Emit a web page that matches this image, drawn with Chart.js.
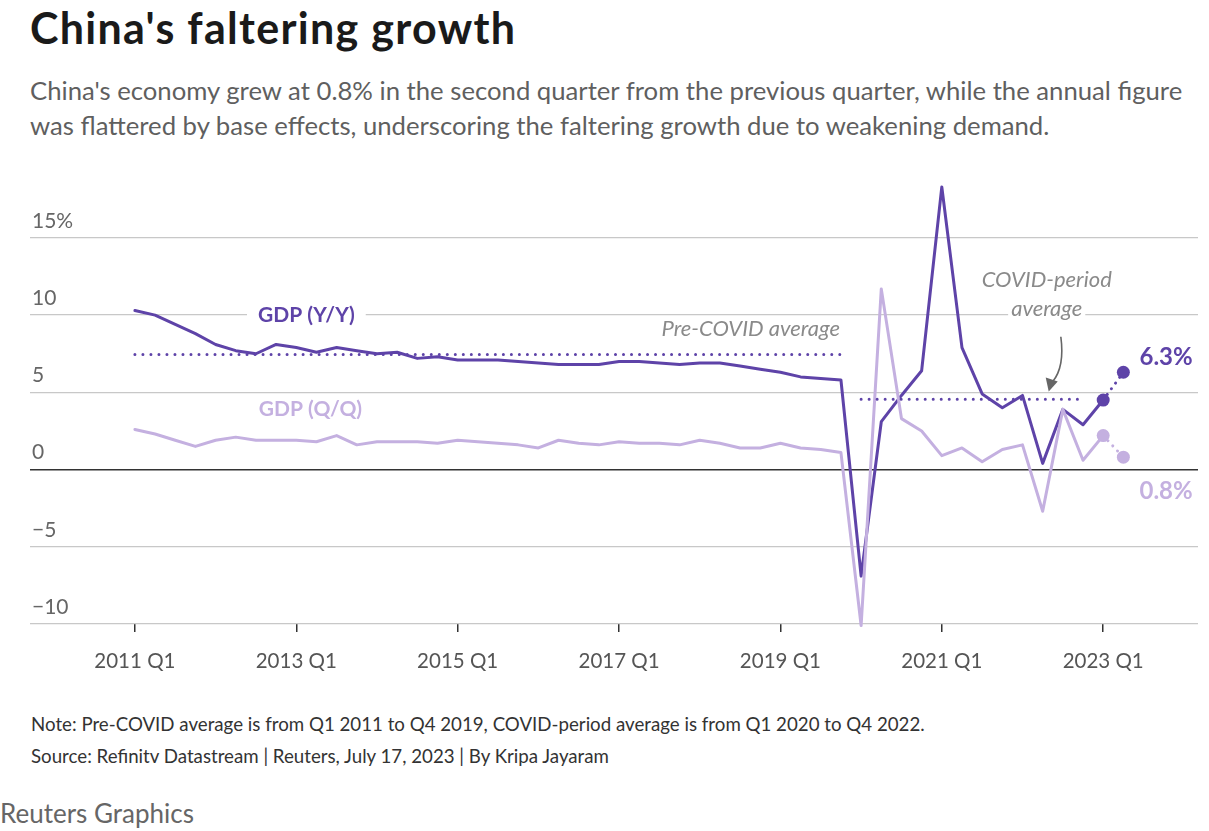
<!DOCTYPE html>
<html>
<head>
<meta charset="utf-8">
<script src="https://cdn.jsdelivr.net/npm/chart.js@4.4.0/dist/chart.umd.min.js"></script>
<style>
  html, body { margin: 0; padding: 0; background: #fff; }
  body { width: 1209px; height: 831px; position: relative; overflow: hidden; font-family: Lato, "Noto Sans", sans-serif; }
  .title { position: absolute; left: 30px; top: 2px; font-size: 43px; line-height: 52px; font-weight: 700; letter-spacing: 1.3px; color: #1a1a1a; }
  .sub { position: absolute; left: 30px; top: 73px; font-size: 25.7px; line-height: 35px; color: #5f5f5f; }
  .note { position: absolute; left: 31px; top: 708px; font-size: 18.7px; line-height: 32px; color: #333; }
  .brand { position: absolute; left: 0; top: 798px; font-size: 26px; line-height: 30px; color: #666; }
  #wrap { position: absolute; left: 0; top: 160px; width: 1209px; height: 540px; }
</style>
</head>
<body>
<div class="title">China's faltering growth</div>
<div class="sub">China's economy grew at 0.8% in the second quarter from the previous quarter, while the annual figure<br>was flattered by base effects, underscoring the faltering growth due to weakening demand.</div>
<div id="wrap"><canvas id="chart"></canvas></div>
<div class="note">Note: Pre-COVID average is from Q1 2011 to Q4 2019, COVID-period average is from Q1 2020 to Q4 2022.<br>Source: Refinitv Datastream | Reuters, July 17, 2023 | By Kripa Jayaram</div>
<div class="brand">Reuters Graphics</div>

<script>
// quarters, 2011 Q1 .. 2023 Q2
const quarters = [
  '2011 Q1','2011 Q2','2011 Q3','2011 Q4','2012 Q1','2012 Q2','2012 Q3','2012 Q4',
  '2013 Q1','2013 Q2','2013 Q3','2013 Q4','2014 Q1','2014 Q2','2014 Q3','2014 Q4',
  '2015 Q1','2015 Q2','2015 Q3','2015 Q4','2016 Q1','2016 Q2','2016 Q3','2016 Q4',
  '2017 Q1','2017 Q2','2017 Q3','2017 Q4','2018 Q1','2018 Q2','2018 Q3','2018 Q4',
  '2019 Q1','2019 Q2','2019 Q3','2019 Q4','2020 Q1','2020 Q2','2020 Q3','2020 Q4',
  '2021 Q1','2021 Q2','2021 Q3','2021 Q4','2022 Q1','2022 Q2','2022 Q3','2022 Q4',
  '2023 Q1','2023 Q2'
];

// GDP growth, year on year (%)
const gdpYY = [
  10.3, 10.0, 9.4, 8.8,   8.1, 7.7, 7.5, 8.1,   7.9, 7.6, 7.9, 7.7,   7.5, 7.6, 7.2, 7.3,
  7.1, 7.1, 7.1, 7.0,     6.9, 6.8, 6.8, 6.8,   7.0, 7.0, 6.9, 6.8,   6.9, 6.9, 6.7, 6.5,
  6.3, 6.0, 5.9, 5.8,    -6.9, 3.1, 4.8, 6.4,  18.3, 7.9, 4.9, 4.0,   4.8, 0.4, 3.9, 2.9,
  4.5, 6.3
];

// GDP growth, quarter on quarter (%)
const gdpQQ = [
  2.6, 2.3, 1.9, 1.5,   1.9, 2.1, 1.9, 1.9,   1.9, 1.8, 2.2, 1.6,   1.8, 1.8, 1.8, 1.7,
  1.9, 1.8, 1.7, 1.6,   1.4, 1.9, 1.7, 1.6,   1.8, 1.7, 1.7, 1.6,   1.9, 1.7, 1.4, 1.4,
  1.7, 1.4, 1.3, 1.1, -10.1, 11.7, 3.3, 2.5,  0.9, 1.4, 0.5, 1.3,   1.6, -2.7, 3.9, 0.6,
  2.2, 0.8
];

// averages of y/y growth
const preCovidAvg = 7.45;   // 2011 Q1 - 2019 Q4
const covidAvg = 4.55;      // 2020 Q1 - 2022 Q4
const preCovidRange = ['2011 Q1', '2019 Q4'];
const covidRange = ['2020 Q1', '2022 Q4'];

const xTickLabels = ['2011 Q1', '2013 Q1', '2015 Q1', '2017 Q1', '2019 Q1', '2021 Q1', '2023 Q1'];
const yTickValues = [-10, -5, 0, 5, 10, 15];
const yTickLabels = ['\u221210', '\u22125', '0', '5', '10', '15%'];

const DARK = '#5e43a8';
const LIGHT = '#c4b0e0';
const lastIdx = quarters.length - 1;

const toPoints = arr => arr.map((v, i) => ({ x: i, y: v }));
const avgLine = (v, range) => range.map(q => ({ x: quarters.indexOf(q), y: v }));

// radius only on the two latest quarters
const endPoints = ctx => (ctx.dataIndex >= lastIdx - 1 ? 6.5 : 0);
const lastDotted = ctx => (ctx.p1DataIndex === lastIdx ? [0.01, 7] : undefined);

// annotations: text, arrow
const notesPlugin = {
  id: 'notes',
  afterDatasetsDraw(chart) {
    const { ctx, scales: { x, y } } = chart;
    const px = v => x.getPixelForValue(v);
    const py = v => y.getPixelForValue(v);

    function label(text, xi, yv, opt) {
      ctx.save();
      ctx.font = opt.font;
      ctx.textBaseline = 'middle';
      ctx.textAlign = opt.align || 'center';
      const w = ctx.measureText(text).width;
      let left = px(xi);
      if (ctx.textAlign === 'center') left -= w / 2;
      if (ctx.textAlign === 'right') left -= w;
      if (opt.bg) {
        ctx.fillStyle = '#fff';
        ctx.fillRect(left - opt.bg, py(yv) - 12, w + opt.bg * 2, 24);
      }
      ctx.fillStyle = opt.color;
      ctx.fillText(text, px(xi), py(yv));
      ctx.restore();
    }

    const bold = '700 21px Lato, "Noto Sans", sans-serif';
    const boldPct = '700 24px Lato, "Noto Sans", sans-serif';
    const ital = 'italic 400 22px Lato, "Noto Sans", sans-serif';

    label('GDP (Y/Y)', 8.5, 10, { font: bold, color: DARK, bg: 11 });
    label('GDP (Q/Q)', 8.7, 3.9, { font: bold, color: LIGHT });
    label('Pre-COVID average', 34.95, 9.1, { font: ital, color: '#8a8a8a', align: 'right' });
    label('COVID-period', 45.2, 12.3, { font: ital, color: '#8a8a8a' });
    label('average', 45.2, 10.4, { font: ital, color: '#8a8a8a', bg: 3 });
    label('6.3%', 49.8, 7.3, { font: boldPct, color: DARK, align: 'left' });
    label('0.8%', 49.8, -1.4, { font: boldPct, color: LIGHT, align: 'left' });

    // curved arrow to the covid average line
    ctx.save();
    ctx.strokeStyle = '#666';
    ctx.fillStyle = '#666';
    ctx.lineWidth = 1.6;
    const x0 = px(45.9), y0 = py(8.6);
    const x1 = px(45.5), y1 = py(5.7);
    ctx.beginPath();
    ctx.moveTo(x0, y0);
    ctx.quadraticCurveTo(x0 + 4, y0 + 30, x1, y1);
    ctx.stroke();
    const tipX = px(45.3), tipY = py(5.05);
    ctx.beginPath();
    ctx.moveTo(tipX, tipY);
    ctx.lineTo(tipX - 3, tipY - 14);
    ctx.lineTo(tipX + 9, tipY - 10);
    ctx.closePath();
    ctx.fill();
    ctx.restore();
  }
};

new Chart(document.getElementById('chart'), {
  type: 'line',
  data: {
    datasets: [
      {
        label: 'Pre-COVID average',
        data: avgLine(preCovidAvg, preCovidRange),
        borderColor: DARK, borderWidth: 3, borderDash: [0.01, 8], borderCapStyle: 'round',
        pointRadius: 0, fill: false
      },
      {
        label: 'COVID-period average',
        data: avgLine(covidAvg, covidRange),
        borderColor: DARK, borderWidth: 3, borderDash: [0.01, 8], borderCapStyle: 'round',
        pointRadius: 0, fill: false
      },
      {
        label: 'GDP (Q/Q)',
        data: toPoints(gdpQQ),
        borderColor: LIGHT, backgroundColor: LIGHT, borderWidth: 3,
        borderCapStyle: 'round', borderJoinStyle: 'round',
        pointRadius: endPoints, pointBorderWidth: 0, pointHoverRadius: 0,
        segment: { borderDash: lastDotted },
        tension: 0, clip: false
      },
      {
        label: 'GDP (Y/Y)',
        data: toPoints(gdpYY),
        borderColor: DARK, backgroundColor: DARK, borderWidth: 3,
        borderCapStyle: 'round', borderJoinStyle: 'round',
        pointRadius: endPoints, pointBorderWidth: 0, pointHoverRadius: 0,
        segment: { borderDash: lastDotted },
        tension: 0, clip: false
      }
    ]
  },
  options: {
    responsive: true,
    maintainAspectRatio: false,
    animation: false,
    layout: { padding: { left: 30, right: 11, top: 10, bottom: 0 } },
    plugins: {
      legend: { display: false },
      tooltip: { enabled: false },
      title: { display: false }
    },
    scales: {
      x: {
        type: 'linear',
        min: -5.2,
        max: 52.7,
        afterBuildTicks: s => { s.ticks = xTickLabels.map(l => ({ value: quarters.indexOf(l) })); },
        afterFit: s => { s.height = 76; },
        ticks: {
          callback: v => quarters[v],
          font: { family: 'Lato, "Noto Sans", sans-serif', size: 20.5 },
          color: '#555',
          padding: 17,
          maxRotation: 0,
          autoSkip: false
        },
        grid: { drawOnChartArea: false, drawTicks: true, tickLength: 8, color: '#333', lineWidth: 1.5 },
        border: { display: false }
      },
      y: {
        min: -10,
        max: 19.1,
        afterBuildTicks: s => { s.ticks = yTickValues.map(v => ({ value: v })); },
        afterFit: s => { s.width = 0; },
        ticks: {
          mirror: true,
          padding: 2,
          labelOffset: -17,
          callback: v => yTickLabels[yTickValues.indexOf(v)],
          font: { family: 'Lato, "Noto Sans", sans-serif', size: 21 },
          color: '#666'
        },
        grid: {
          drawTicks: false,
          color: c => (c.tick && c.tick.value === 0 ? '#333' : '#c8c8c8'),
          lineWidth: c => (c.tick && c.tick.value === 0 ? 1.6 : 1.3)
        },
        border: { display: false }
      }
    }
  },
  plugins: [notesPlugin]
});
</script>
</body>
</html>
